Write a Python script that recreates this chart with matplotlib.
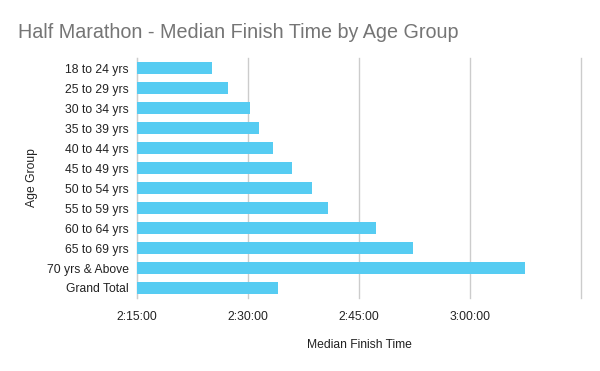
import matplotlib.pyplot as plt
from matplotlib.ticker import FuncFormatter

# median finish times, in seconds (h:mm:ss)
age_groups = ["18 to 24 yrs", "25 to 29 yrs", "30 to 34 yrs", "35 to 39 yrs",
              "40 to 44 yrs", "45 to 49 yrs", "50 to 54 yrs", "55 to 59 yrs",
              "60 to 64 yrs", "65 to 69 yrs", "70 yrs & Above", "Grand Total"]
finish_times = ["2:25:05", "2:27:15", "2:30:14", "2:31:29",
                "2:33:20", "2:35:54", "2:38:36", "2:40:46",
                "2:47:18", "2:52:18", "3:07:24", "2:34:01"]
tick_times = ["2:15:00", "2:30:00", "2:45:00", "3:00:00", "3:15:00"]


def to_sec(s):
    h, m, sec = s.split(":")
    return int(h) * 3600 + int(m) * 60 + int(sec)


def fmt(v, pos):
    # google sheets leaves the last gridline unlabeled
    if v >= to_sec(tick_times[-1]):
        return ""
    v = int(round(v))
    return "%d:%02d:%02d" % (v // 3600, (v % 3600) // 60, v % 60)


plt.rcParams['font.family'] = ['Liberation Sans', 'DejaVu Sans']

values = [to_sec(t) for t in finish_times]
start = to_sec(tick_times[0])

fig = plt.figure(figsize=(6, 3.71), dpi=100)
ax = fig.add_axes([137 / 600, 1 - 298 / 371, 444 / 600, 240 / 371])

ypos = list(range(len(age_groups)))
ax.barh(ypos, [v - start for v in values], left=start, height=0.62,
        color='#56ccf2', zorder=3)

ax.set_xlim(start, to_sec(tick_times[-1]))
ax.set_ylim(len(age_groups) - 0.5, -0.5)
ax.set_xticks([to_sec(t) for t in tick_times])
ax.xaxis.set_major_formatter(FuncFormatter(fmt))
ax.set_yticks(ypos)
ax.set_yticklabels(age_groups)

ax.grid(axis='x', color='#cccccc', linewidth=1, zorder=0)
for gl in ax.get_xgridlines():
    gl.set_clip_on(False)
for side in ['top', 'right', 'bottom']:
    ax.spines[side].set_visible(False)
ax.spines['left'].set_color('#cccccc')
ax.tick_params(axis='both', length=0, labelsize=8.7, colors='#222222')
ax.tick_params(axis='x', pad=9)
ax.tick_params(axis='y', pad=6)

ax.set_xlabel("Median Finish Time", fontsize=8.7, color='#222222', labelpad=12)
ax.set_ylabel("Age Group", fontsize=8.7, color='#222222', labelpad=6)

fig.text(18 / 600, 1 - 32 / 371, "Half Marathon - Median Finish Time by Age Group",
         fontsize=14.2, color='#757575', va='center', ha='left')

plt.savefig("out.png", dpi=100)
